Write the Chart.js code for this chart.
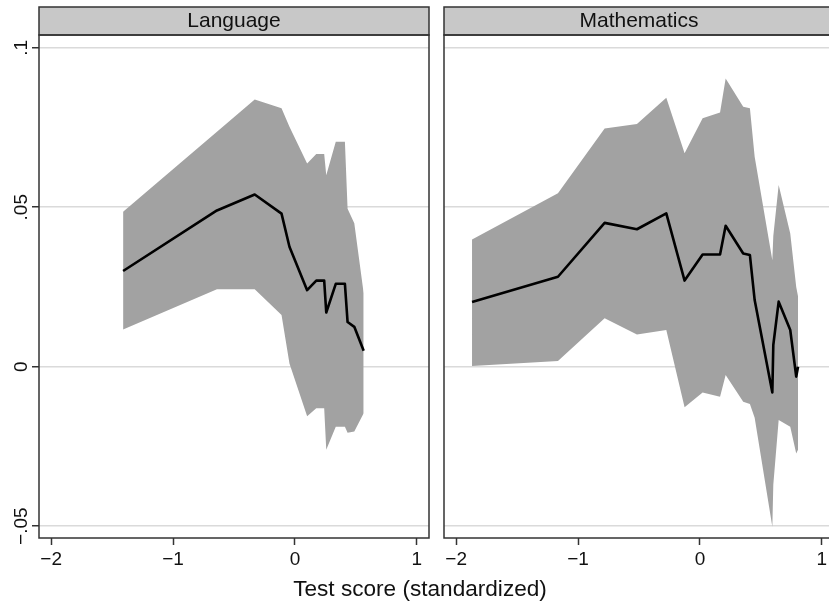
<!DOCTYPE html>
<html>
<head>
<meta charset="utf-8">
<script src="https://cdn.jsdelivr.net/npm/chart.js@4/dist/chart.umd.min.js"></script>
<style>
  html, body { margin: 0; padding: 0; background: #fff; overflow: hidden; }
  #wrap { position: relative; width: 829px; height: 602px; overflow: hidden; background: #fff; }
  #cLang { position: absolute; left: 0; top: 0; }
  #cMath { position: absolute; left: 432px; top: 0; }
</style>
</head>
<body>
<div id="wrap">
  <canvas id="cLang" width="829" height="602"></canvas>
  <canvas id="cMath" width="420" height="602"></canvas>
</div>
<script>
// Axis ticks and labels
const yTicks = [-0.05, 0, 0.05, 0.1];
const yTickLabels = ['\u2212.05', '0', '.05', '.1'];
const xTicks = [-2, -1, 0, 1];
const xTickLabels = ['\u22122', '\u22121', '0', '1'];
const panelTitles = ['Language', 'Mathematics'];
const xAxisTitle = 'Test score (standardized)';

// Language: estimate with confidence band
const langX  = [-1.41, -0.64, -0.33, -0.11, -0.045, 0.10, 0.175, 0.24, 0.257, 0.335, 0.41, 0.432, 0.487, 0.564];
const langEst = [0.030, 0.049, 0.054, 0.048, 0.0376, 0.024, 0.027, 0.027, 0.017, 0.026, 0.026, 0.014, 0.0125, 0.005];
const langHi  = [0.0486, 0.0737, 0.0838, 0.081, 0.0752, 0.0637, 0.0667, 0.0667, 0.060, 0.0705, 0.0705, 0.0495, 0.045, 0.023];
const langLo  = [0.0117, 0.0243, 0.0243, 0.0162, 0.001, -0.0155, -0.013, -0.013, -0.026, -0.0188, -0.0188, -0.0207, -0.0203, -0.0146];

// Mathematics: estimate with confidence band
const mathX  = [-1.87, -1.165, -0.782, -0.517, -0.276, -0.126, 0.022, 0.165, 0.211, 0.355, 0.41, 0.449, 0.594, 0.602, 0.646, 0.741, 0.79, 0.805];
const mathEst = [0.0203, 0.0282, 0.0451, 0.0431, 0.0481, 0.027, 0.0352, 0.0352, 0.0442, 0.0355, 0.035, 0.0209, -0.0081, 0.0068, 0.0204, 0.0115, -0.0031, 0.0];
const mathHi  = [0.0399, 0.0544, 0.0747, 0.0761, 0.0843, 0.0669, 0.0779, 0.0797, 0.0904, 0.0815, 0.081, 0.0658, 0.0334, 0.041, 0.057, 0.0418, 0.025, 0.022];
const mathLo  = [0.0002, 0.0018, 0.0152, 0.0101, 0.0115, -0.0127, -0.0081, -0.0094, -0.0026, -0.011, -0.0117, -0.016, -0.0502, -0.037, -0.0167, -0.0188, -0.0272, -0.026];

const FONT = '"Liberation Sans", Arial, Helvetica, sans-serif';
const DARK = '#333333';

function pts(xs, ys) { return xs.map((x, i) => ({ x: x, y: ys[i] })); }

function datasets(xs, est, hi, lo) {
  return [
    { data: pts(xs, est), borderColor: '#000', borderWidth: 2.6, pointRadius: 0,
      fill: false, borderJoinStyle: 'round', tension: 0 },
    { data: pts(xs, hi), borderWidth: 0, pointRadius: 0, fill: '+1',
      backgroundColor: '#a2a2a2', tension: 0 },
    { data: pts(xs, lo), borderWidth: 0, pointRadius: 0, fill: false, tension: 0 }
  ];
}

// Draws the title strip, the plot frame, rotated y labels and the shared x title
const panelDecor = {
  id: 'panelDecor',
  afterDraw(chart, args, opts) {
    const ctx = chart.ctx, a = chart.chartArea;
    ctx.save();
    ctx.fillStyle = '#c8c8c8';
    ctx.fillRect(a.left, 7, a.right - a.left, a.top - 7);
    ctx.strokeStyle = DARK;
    ctx.lineWidth = 1.5;
    ctx.strokeRect(a.left, 7, a.right - a.left, a.top - 7);
    ctx.strokeRect(a.left, a.top, a.right - a.left, a.bottom - a.top);

    ctx.fillStyle = '#111';
    ctx.textAlign = 'center';
    ctx.textBaseline = 'alphabetic';
    ctx.font = '21px ' + FONT;
    ctx.fillText(opts.title, (a.left + a.right) / 2, 27);

    if (opts.yLabels) {
      const ys = chart.scales.y;
      ctx.font = '19px ' + FONT;
      yTicks.forEach((v, i) => {
        const py = ys.getPixelForValue(v);
        ctx.save();
        ctx.translate(27, py);
        ctx.rotate(-Math.PI / 2);
        ctx.fillText(yTickLabels[i], 0, 0);
        ctx.restore();
      });
    }
    if (opts.xTitle) {
      ctx.font = '22.6px ' + FONT;
      ctx.fillText(opts.xTitle, 420, 596);
    }
    ctx.restore();
  }
};

function makeChart(id, data, cfg) {
  return new Chart(document.getElementById(id), {
    type: 'line',
    data: { datasets: data },
    options: {
      responsive: false,
      animation: false,
      devicePixelRatio: 1,
      layout: { padding: { left: 0, right: cfg.padRight, top: 35, bottom: 0 } },
      plugins: {
        legend: { display: false },
        tooltip: { enabled: false },
        panelDecor: { title: cfg.title, yLabels: cfg.yLabels, xTitle: cfg.xTitle }
      },
      scales: {
        x: {
          type: 'linear', min: -2.1, max: 1.1,
          afterBuildTicks: s => { s.ticks = xTicks.map(v => ({ value: v })); },
          afterFit: s => { s.height = 64; },
          border: { display: false },
          grid: { drawOnChartArea: false, drawTicks: true, tickLength: 7,
                  tickColor: DARK, tickWidth: 1.5 },
          ticks: {
            padding: 3, color: '#111', font: { family: FONT, size: 19 },
            maxRotation: 0, autoSkip: false,
            callback: v => xTickLabels[xTicks.indexOf(v)]
          }
        },
        y: {
          type: 'linear', min: -0.0537, max: 0.104,
          afterBuildTicks: s => { s.ticks = yTicks.map(v => ({ value: v })); },
          afterFit: s => { s.width = cfg.yWidth; },
          border: { display: false },
          grid: { color: '#dadada', lineWidth: 1.5, drawTicks: cfg.yLabels,
                  tickLength: 7, tickColor: DARK, tickWidth: 1.5 },
          ticks: { display: false }
        }
      }
    },
    plugins: [panelDecor]
  });
}

makeChart('cLang', datasets(langX, langEst, langHi, langLo),
  { title: panelTitles[0], yLabels: true, xTitle: xAxisTitle, yWidth: 39, padRight: 400 });
makeChart('cMath', datasets(mathX, mathEst, mathHi, mathLo),
  { title: panelTitles[1], yLabels: false, xTitle: null, yWidth: 12, padRight: 18 });
</script>
</body>
</html>
